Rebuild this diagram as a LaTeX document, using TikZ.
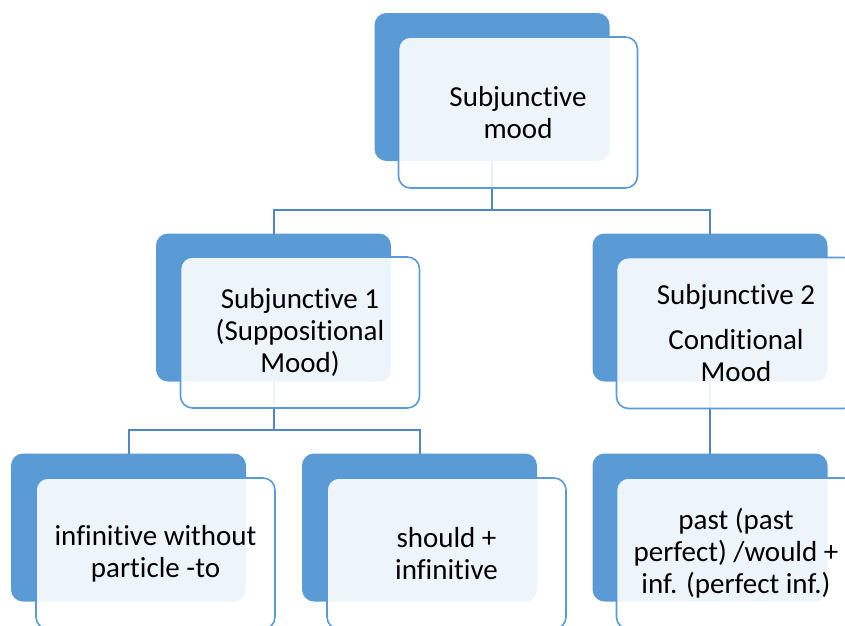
\documentclass[tikz,border=0pt]{standalone}
\usepackage{fontspec}
\setmainfont{Carlito}[Ligatures=NoCommon,RawFeature={-liga;-clig;-dlig;-calt}]
\newcommand\tI{t\kern0pt i}
\newcommand\fI{f\kern0pt i}
\definecolor{darkblue}{HTML}{5B9BD5}
\definecolor{linkblue}{HTML}{4F87C4}
\begin{document}
\begin{tikzpicture}[x=1pt,y=-1pt,
  darkbox/.style={fill=darkblue, rounded corners=12pt, minimum width=235pt, minimum height=148pt, inner sep=0pt, outer sep=0pt},
  lightbox/.style={draw=darkblue, line width=1.6pt, fill=white, fill opacity=0.9, text opacity=1, rounded corners=12pt, minimum width=239pt, minimum height=151pt, inner sep=0pt, outer sep=0pt, align=center, font=\fontsize{29}{32}\selectfont},
  conn/.style={draw=linkblue, line width=2pt}]
\useasboundingbox (0,0) rectangle (845,625);
% dark boxes
\node[darkbox] (d0) at (492,87) {};
\node[darkbox] (d1) at (273.5,307.5) {};
\node[darkbox] (d2) at (710,307.5) {};
\node[darkbox] (d3) at (128.5,527.5) {};
\node[darkbox] (d4) at (419.5,527.5) {};
\node[darkbox] (d5) at (710,527.5) {};
% connectors
\coordinate (j0) at (492,210);
\coordinate (j1) at (273.5,430);
\draw[conn] (d0.south) -- (j0) -| (d1.north);
\draw[conn] (j0) -| (d2.north);
\draw[conn] (d1.south) -- (j1) -| (d3.north);
\draw[conn] (j1) -| (d4.north);
\draw[conn] (d2.south) -- (d5.north);
% light boxes
\node[lightbox] (l0) at (518,112.5) {Subjunc\tI ve\\mood};
\node[lightbox] (l1) at (300,332.5) {Subjunc\tI ve 1\\(Supposi\tI onal\\Mood)};
\node[lightbox] (l2) at (736,333) {Subjunc\tI ve 2\\[13pt]Condi\tI onal\\Mood};
\node[lightbox] (l3) at (155.5,553.5) {in\fI ni\tI ve without\\par\tI cle -to};
\node[lightbox] (l4) at (446.5,553.5) {should +\\in\fI ni\tI ve};
\node[lightbox] (l5) at (736,553.5) {past (past\\perfect) /would +\\inf. (perfect inf.)};
\end{tikzpicture}
\end{document}
